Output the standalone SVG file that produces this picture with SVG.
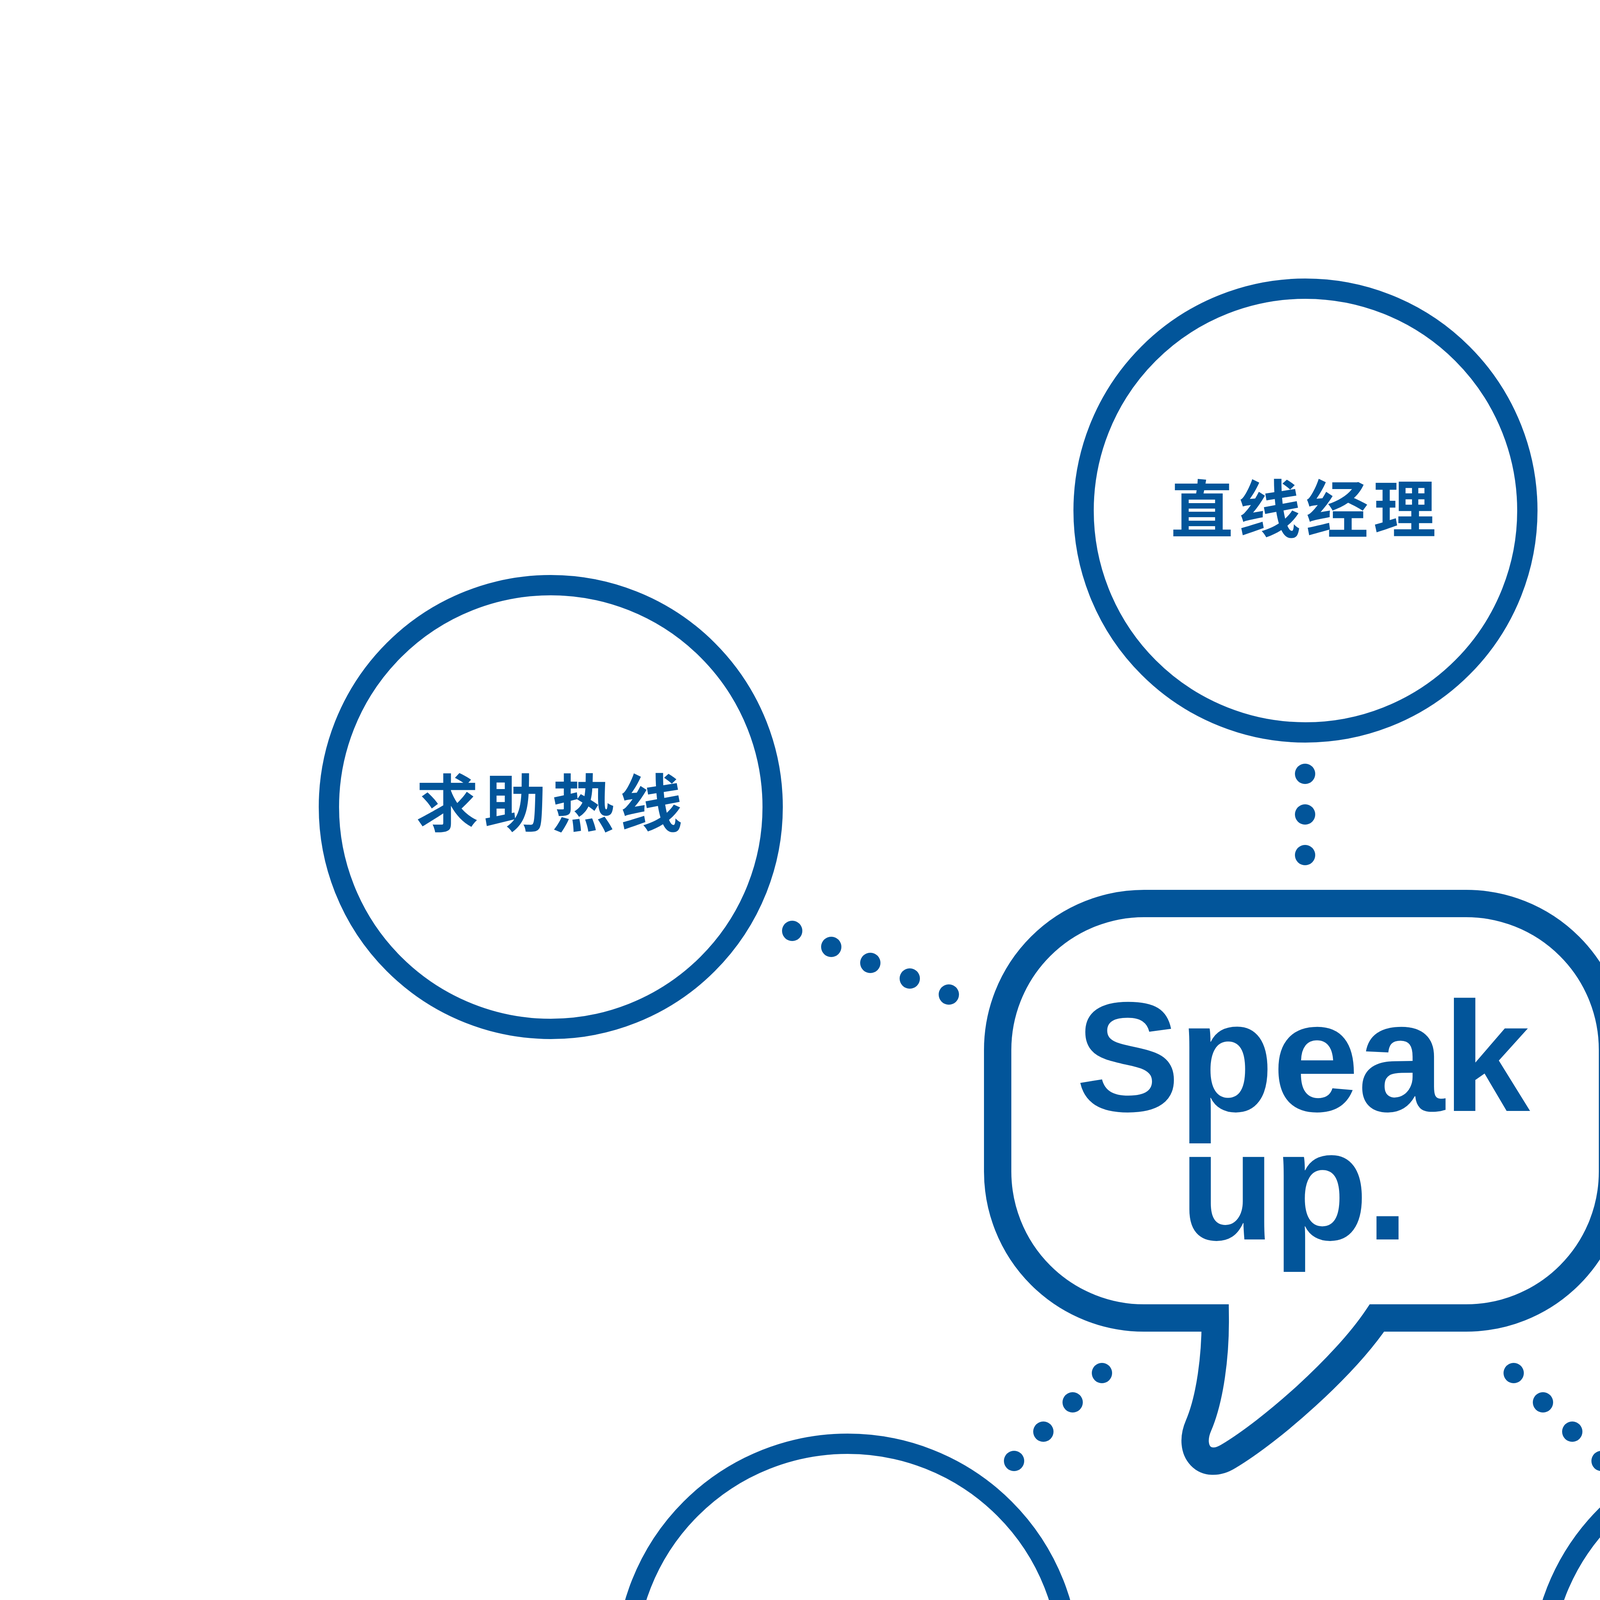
<svg xmlns="http://www.w3.org/2000/svg" width="6717" height="5590" viewBox="0 0 6717 5590">
<style>
.ring{fill:#fff;stroke:#02559A;stroke-width:52}
.bubble{fill:#fff;stroke:#02559A;stroke-width:70;stroke-linejoin:miter;stroke-miterlimit:10}
.dot{fill:#02559A}
.lbl{font-family:"Noto Sans CJK SC","Noto Sans",sans-serif;font-weight:700;fill:#02559A;font-feature-settings:"palt"}
.big{font-size:160px}
.mid{font-size:138px;letter-spacing:11px}
.sml{font-size:144px;letter-spacing:17px}
.speak{font-family:"Liberation Sans",Arial,sans-serif;font-weight:700;font-size:400px;fill:#02559A}
</style>
<rect x="0" y="0" width="6717" height="5590" fill="#fff"/>
<g id="connectors">
<circle class="dot" cx="3341" cy="1981" r="26"/>
<circle class="dot" cx="3341" cy="2085" r="26"/>
<circle class="dot" cx="3341" cy="2189" r="26"/>
<circle class="dot" cx="2028" cy="2383" r="26"/>
<circle class="dot" cx="2128" cy="2424" r="26"/>
<circle class="dot" cx="2228" cy="2465" r="26"/>
<circle class="dot" cx="2329" cy="2505" r="26"/>
<circle class="dot" cx="2429" cy="2546" r="26"/>
<circle class="dot" cx="4258" cy="2546" r="26"/>
<circle class="dot" cx="4358" cy="2505" r="26"/>
<circle class="dot" cx="4458" cy="2465" r="26"/>
<circle class="dot" cx="4559" cy="2424" r="26"/>
<circle class="dot" cx="4659" cy="2383" r="26"/>
<circle class="dot" cx="2596" cy="3740" r="26"/>
<circle class="dot" cx="2671" cy="3665" r="26"/>
<circle class="dot" cx="2746" cy="3590" r="26"/>
<circle class="dot" cx="2821" cy="3515" r="26"/>
<circle class="dot" cx="3875" cy="3515" r="26"/>
<circle class="dot" cx="3950" cy="3590" r="26"/>
<circle class="dot" cx="4025" cy="3665" r="26"/>
<circle class="dot" cx="4100" cy="3740" r="26"/>
</g>
<g id="node-center">
<path class="bubble" d="M 3111 3374 H 2929 A 375 375 0 0 1 2554 2999 V 2688 A 375 375 0 0 1 2929 2313 H 3753 A 375 375 0 0 1 4128 2688 V 2999 A 375 375 0 0 1 3753 3374 H 3525 C 3440 3500 3255 3662 3145 3728 C 3085 3765 3040 3715 3068 3650 C 3098 3580 3112 3470 3111 3374 Z"/>
<text class="speak" x="2754" y="2844" letter-spacing="-4">Speak</text>
<text class="speak" x="3020" y="3173" letter-spacing="-6">up.</text>
</g>
<g id="node-line-manager">
<circle class="ring" cx="3342" cy="1307" r="568"/>
<text class="lbl big" x="2997" y="1363" letter-spacing="13">直线经理</text>
</g>
<g id="node-hotline">
<circle class="ring" cx="1410" cy="2066" r="568"/>
<text class="lbl big" x="1065" y="2116" letter-spacing="14">求助热线</text>
</g>
<g id="node-local-manager">
<circle class="ring" cx="5305" cy="2066" r="568"/>
<text class="lbl mid" x="4846" y="2024">其他值得信任</text>
<text class="lbl mid" x="4846" y="2207">的本地管理者</text>
</g>
<g id="node-compliance">
<circle class="ring" cx="2170" cy="4264" r="568"/>
<text class="lbl big" x="1815" y="4332" letter-spacing="16">合规团队</text>
</g>
<g id="node-experts">
<circle class="ring" cx="4513" cy="4282" r="568"/>
<text class="lbl sml" x="4205" y="4018">专家同事</text>
<text class="lbl sml" x="4121" y="4190">(如：人力资</text>
<text class="lbl sml" x="4202" y="4362">源，HSE，</text>
<text class="lbl sml" x="4126" y="4534">APS,质量，</text>
<text class="lbl sml" x="4333" y="4706">法务)</text>
</g>
</svg>
